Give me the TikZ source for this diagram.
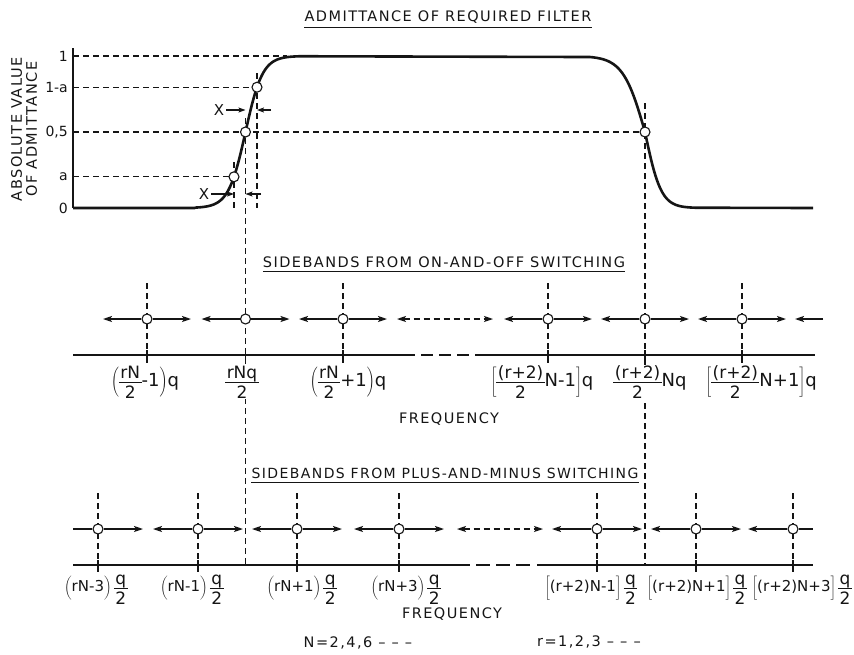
\documentclass[tikz,border=0pt]{standalone}
\usepackage{fontspec}
\setmainfont{DejaVu Sans}
\newfontfamily\headfont[LetterSpace=10]{DejaVu Sans}
\usetikzlibrary{arrows.meta,positioning}
\definecolor{PlotInk}{HTML}{151515}
\newcommand\sidefracsize{\fontsize{17}{17}\selectfont}
\newcommand\sidefrac[2]{\ensuremath{\vcenter{\hbox{\sidefracsize
  \setlength\tabcolsep{1.5pt}\setlength\arrayrulewidth{1.2pt}\renewcommand\arraystretch{0}%
  \begin{tabular}{c}\rule[-3pt]{0pt}{16pt}#1\\\hline\rule{0pt}{15pt}#2\end{tabular}}}}}
\newcommand\sidestrut{\vrule height 14pt depth 7pt width 0pt}
\tikzset{
  every node/.style={text=PlotInk},
  response/.style={draw=PlotInk, line width=2.6pt, line join=round},
  axis/.style={draw=PlotInk, line width=1.6pt},
  guide/.style={draw=PlotInk, line width=1.1pt, dash pattern=on 6pt off 4pt},
  band/.style={-{Stealth[length=9pt,width=6pt,inset=2pt]}, draw=PlotInk, line width=1.5pt},
  spread/.style={{Stealth[length=9pt,width=6pt,inset=2pt]}-{Stealth[length=9pt,width=6pt,inset=2pt]},
    draw=PlotInk, line width=1.3pt, dash pattern=on 6pt off 4pt},
  gap/.style={-{Stealth[length=7pt,width=5pt,inset=1.5pt]}, draw=PlotInk, line width=1.1pt},
  probe/.style={circle, draw=PlotInk, fill=white, line width=1.1pt, inner sep=0pt, minimum size=10pt},
  heading/.style={inner sep=0pt, font=\headfont\fontsize{14.5}{16}\selectfont},
  levelmark/.style={inner sep=0pt, font=\fontsize{14}{16}\selectfont},
  freqlabel/.style={fill=white, inner sep=1pt, font=\fontsize{18}{20}\selectfont},
}

\begin{document}
\begin{tikzpicture}[x=1pt, y=-1pt]
  \useasboundingbox (0,0) rectangle (854,654);
  % Title
  \node[heading] (ttl) at (448,17) {ADMITTANCE OF REQUIRED FILTER};
  \draw[axis, line width=1.2pt] ([yshift=-4pt]ttl.south west) -- ([yshift=-4pt]ttl.south east);
  % Vertical axis and levels
  \draw[axis] (73,48) -- (73,208);
  \foreach \n/\yy/\lbl in {one/56/1, onema/87.2/1-a, half/132/{0,5}, low/176.8/a, zero/208/0} {
    \coordinate (\n) at (73,\yy);
    \node[levelmark, left=5pt of \n] {\lbl};
  }
  \node[heading, rotate=90, align=center, font=\headfont\fontsize{14.5}{15}\selectfont] (ycap) at (24,129)
    {ABSOLUTE VALUE\\OF ADMITTANCE};
  % Guides
  \coordinate (flat) at (287,56);
  \draw[guide] (one) -- (flat);
  \draw[guide] (onema) -- (257,87.2);
  \draw[guide] (half) -- (645,132);
  \draw[guide] (low) -- (234,176.8);
  \draw[guide] (257,73) -- (257,208);
  \draw[guide] (234,162) -- (234,208);
  \draw[guide] (245.5,118) -- (245.5,565);
  \draw[guide] (645,103) -- (645,565);
  % Response curve
  \draw[response] (zero) -- (195,208)
    -- plot[domain=195:300, samples=70] (\x, {208-152/(1+exp(-(\x-245.5)/8.5))})
    -- plot[domain=590:645, samples=40] (\x, {208-152/(1+exp((\x-645)/11))})
    -- plot[domain=645:695, samples=40] (\x, {208-152/(1+exp((\x-645)/8))})
    -- (813,208);
  % Points on the curve
  \node[probe] (pa) at (234,176.8) {};
  \node[probe] (pb) at (257,87.2) {};
  \node[probe] (pl) at (245.5,132) {};
  \node[probe] (pr) at (645,132) {};
  % Width markers
  \node[levelmark, inner sep=2pt, font=\fontsize{15}{16}\selectfont] (xu) at (219,110) {X};
  \draw[gap] (xu.east) -- (245.5,110);
  \draw[gap] (271,110) -- (257,110);
  \node[levelmark, inner sep=2pt, font=\fontsize{15}{16}\selectfont] (xl) at (204,194) {X};
  \draw[gap] (xl.east) -- (234,194);
  \draw[gap] (261,194) -- (245.5,194);

  % On-and-off switching
  \node[heading] (hon) at (444,262) {SIDEBANDS FROM ON-AND-OFF SWITCHING};
  \draw[axis, line width=1.2pt] ([yshift=-4pt]hon.south west) -- ([yshift=-4pt]hon.south east);
  \draw[axis] (73,355) -- (415,355);
  \draw[axis, dash pattern=on 12pt off 6pt] (421,355) -- (469,355);
  \draw[axis] (475,355) -- (815,355);
  \foreach \px in {147,343,548,742}
    \draw[guide] (\px,283) -- (\px,350);
  \foreach \i/\px/\lx/\lbl in {
      1/147/145/{${\left(\sidefrac{rN}{2}\mbox{-1}\right)}\mbox{q}$},
      2/245.5/242/{$\sidefrac{rNq}{2}$},
      3/343/348/{${\left(\sidefrac{rN}{2}\mbox{+1}\right)}\mbox{q}$},
      4/548/542/{${\left[\sidefrac{(r+2)}{2}\mbox{N-1}\right]}\mbox{q}$},
      5/645/650/{$\sidefrac{(r+2)}{2}\mbox{Nq}$},
      6/742/761/{${\left[\sidefrac{(r+2)}{2}\mbox{N+1}\right]}\mbox{q}$}} {
    \draw[axis] (\px,350) -- (\px,363);
    \node[probe] (on\i) at (\px,319) {};
    \draw[band] (on\i) -- ++(-44,0);
    \draw[band] (on\i) -- ++(44,0);
    \node[freqlabel] (onlbl\i) at (\lx,382) {\lbl};
  }
  \coordinate (ona) at (397,319);
  \coordinate (onb) at (493,319);
  \draw[spread] (ona) -- (onb);
  \coordinate (onc) at (823,319);
  \coordinate (ond) at (795,319);
  \draw[band] (onc) -- (ond);
  \node[heading] (fq1) at (449,419) {FREQUENCY};

  % Plus-and-minus switching
  \node[heading, font=\headfont\fontsize{14}{16}\selectfont] (hpm) at (445,473) {SIDEBANDS FROM PLUS-AND-MINUS SWITCHING};
  \draw[axis, line width=1.2pt] ([yshift=-4pt]hpm.south west) -- ([yshift=-4pt]hpm.south east);
  \draw[axis] (73,565) -- (470,565);
  \draw[axis, dash pattern=on 14pt off 6pt] (476,565) -- (530,565);
  \draw[axis] (537,565) -- (813,565);
  \foreach \i/\px/\lx/\lbl in {
      1/98/96/{$\left(\sidestrut\mbox{rN-3}\right)\sidefrac{q}{2}$},
      2/198/192/{$\left(\sidestrut\mbox{rN-1}\right)\sidefrac{q}{2}$},
      3/297/302/{$\left(\sidestrut\mbox{rN+1}\right)\sidefrac{q}{2}$},
      4/399/406/{$\left(\sidestrut\mbox{rN+3}\right)\sidefrac{q}{2}$},
      5/597/591/{$\left[\sidestrut\mbox{(r+2)N-1}\right]\sidefrac{q}{2}$},
      6/696/697/{$\left[\sidestrut\mbox{(r+2)N+1}\right]\sidefrac{q}{2}$},
      7/793/802/{$\left[\sidestrut\mbox{(r+2)N+3}\right]\sidefrac{q}{2}$}} {
    \draw[guide] (\px,493) -- (\px,560);
    \draw[axis] (\px,560) -- (\px,573);
    \node[probe] (pm\i) at (\px,529) {};
    \node[freqlabel, inner sep=0pt, font=\fontsize{15}{17}\selectfont] (pmlbl\i) at (\lx,588) {\lbl};
  }
  \foreach \i in {2,...,7}
    \draw[band] (pm\i) -- ++(-45,0);
  \foreach \i in {1,...,6}
    \draw[band] (pm\i) -- ++(45,0);
  \coordinate (pmstart) at (73,529);
  \coordinate (pmend) at (813,529);
  \draw[band, -] (pm1) -- (pmstart);
  \draw[band, -] (pm7) -- (pmend);
  \coordinate (pma) at (457,529);
  \coordinate (pmb) at (543,529);
  \draw[spread] (pma) -- (pmb);
  \node[heading] (fq2) at (452,614) {FREQUENCY};
  \node[heading] (nset) at (358,643) {N=2,4,6 – – –};
  \node[heading] (rset) at (589,642) {r=1,2,3 – – –};
\end{tikzpicture}
\end{document}
